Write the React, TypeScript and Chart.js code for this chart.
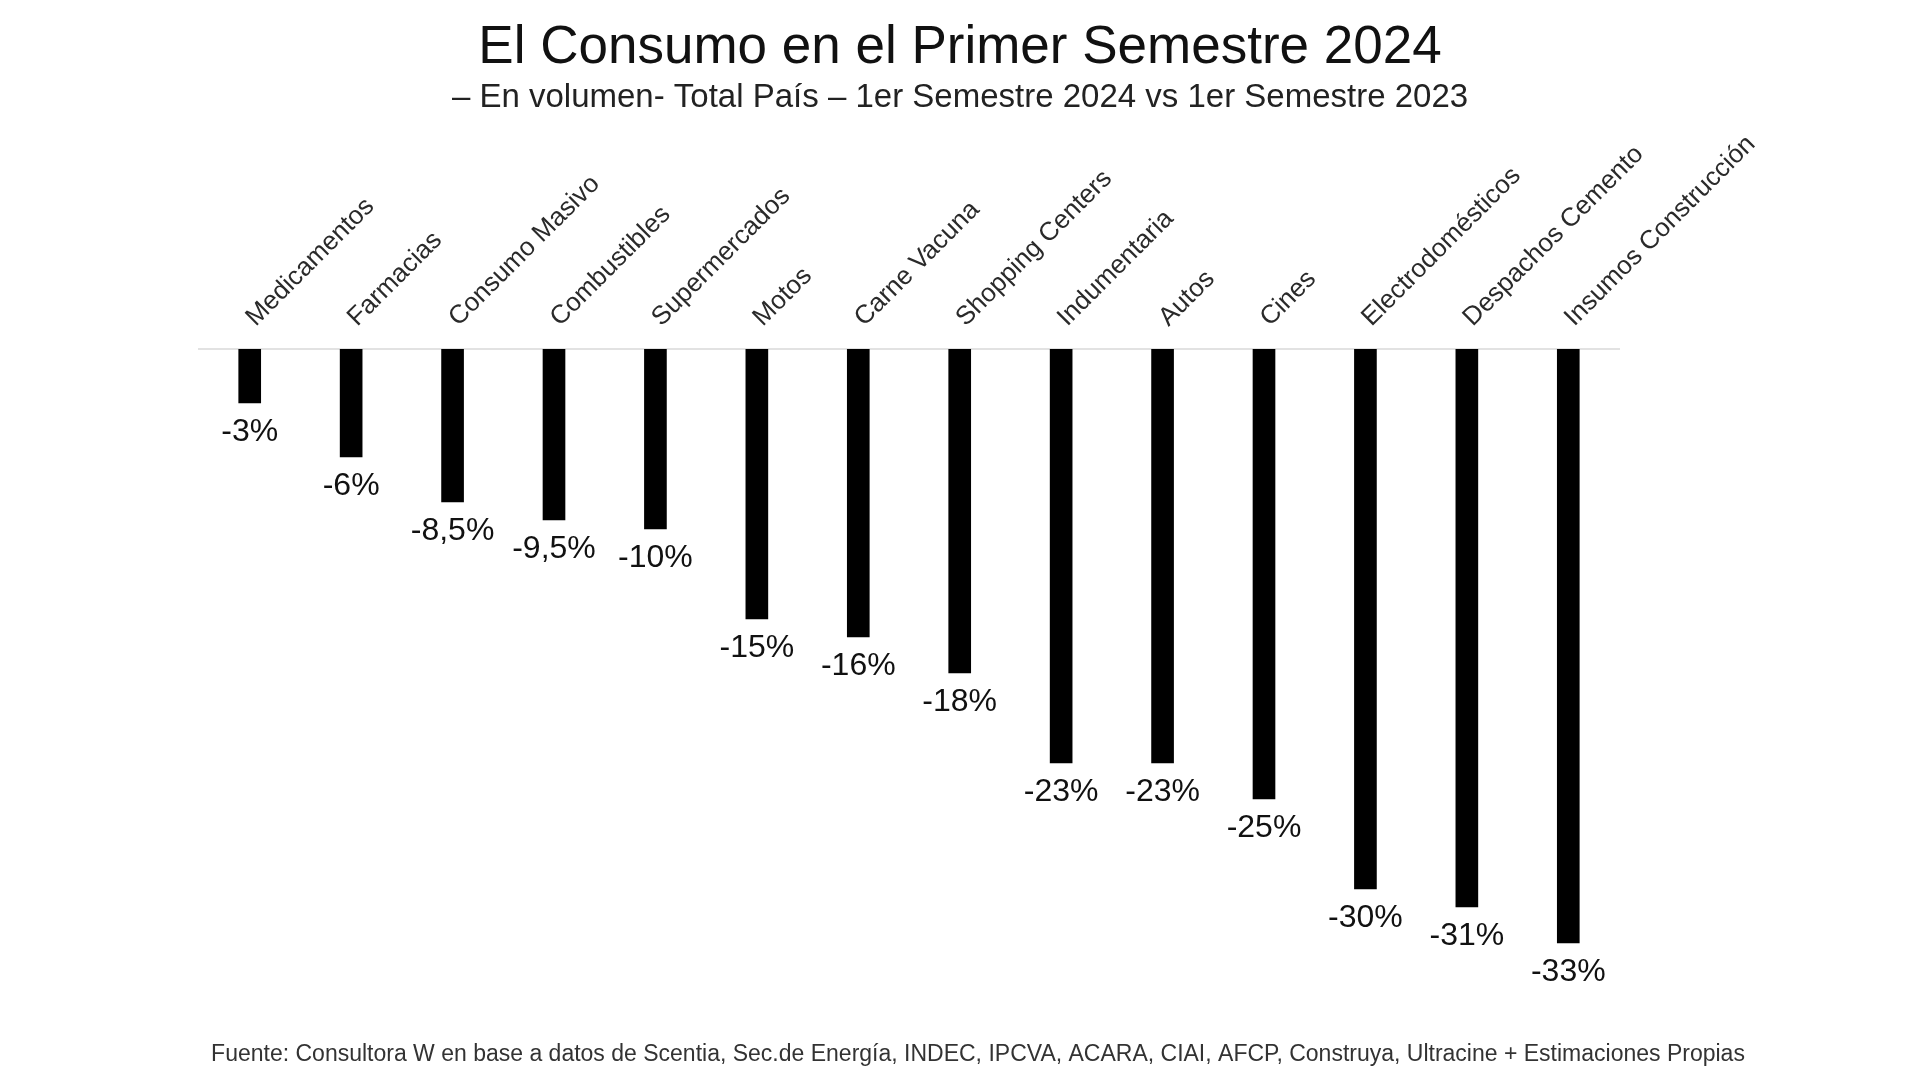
import React, { useEffect, useRef } from "react";
import { Chart, registerables } from "chart.js";

Chart.register(...registerables);

const TITLE = "El Consumo en el Primer Semestre 2024";
const SUBTITLE = "– En volumen- Total País – 1er Semestre 2024 vs 1er Semestre 2023";
const SOURCE =
  "Fuente: Consultora W en base a datos de Scentia, Sec.de Energía, INDEC, IPCVA, ACARA, CIAI, AFCP, Construya, Ultracine + Estimaciones Propias";

const categories = [
  "Medicamentos",
  "Farmacias",
  "Consumo Masivo",
  "Combustibles",
  "Supermercados",
  "Motos",
  "Carne Vacuna",
  "Shopping Centers",
  "Indumentaria",
  "Autos",
  "Cines",
  "Electrodomésticos",
  "Despachos Cemento",
  "Insumos Construcción",
];

const values = [-3, -6, -8.5, -9.5, -10, -15, -16, -18, -23, -23, -25, -30, -31, -33];

const valueLabels = values.map((v) => String(v).replace(".", ",") + "%");

const FONT = '"Liberation Sans", Arial, sans-serif';

const textPlugin = {
  id: "textPlugin",
  afterDatasetsDraw(chart: any) {
    const ctx = chart.ctx;
    const meta = chart.getDatasetMeta(0);
    ctx.save();
    ctx.fillStyle = "#111";
    ctx.textAlign = "center";
    ctx.textBaseline = "middle";
    ctx.font = `32px ${FONT}`;
    meta.data.forEach((el: any, i: number) => {
      ctx.fillText(valueLabels[i], el.x, el.y + 29);
    });
    ctx.restore();
  },
  afterDraw(chart: any) {
    const ctx = chart.ctx;
    ctx.save();
    ctx.fillStyle = "#111";
    ctx.textAlign = "center";
    ctx.textBaseline = "alphabetic";
    ctx.font = `53px ${FONT}`;
    ctx.fillText(TITLE, 960, 63);
    ctx.font = `33px ${FONT}`;
    ctx.fillStyle = "#222";
    ctx.fillText(SUBTITLE, 960, 107);
    ctx.font = `23px ${FONT}`;
    ctx.fillStyle = "#333";
    ctx.fillText(SOURCE, 978, 1061);
    ctx.restore();
  },
};

export default function App() {
  const ref = useRef<HTMLCanvasElement>(null);
  useEffect(() => {
    if (!ref.current) return;
    const chart = new Chart(ref.current, {
      type: "bar",
      data: {
        labels: categories,
        datasets: [
          {
            data: values,
            backgroundColor: "#000",
            borderWidth: 0,
            barThickness: 22,
          },
        ],
      },
      options: {
        animation: false,
        responsive: false,
        devicePixelRatio: 1,
        layout: { padding: { top: 0, left: 199, right: 301, bottom: 101 } },
        plugins: {
          legend: { display: false },
          tooltip: { enabled: false },
          title: { display: false },
        },
        scales: {
          x: {
            position: "top",
            grid: { display: false, drawTicks: false },
            border: { display: true, color: "#e2e2e2", width: 2 },
            ticks: {
              autoSkip: false,
              minRotation: 45,
              maxRotation: 45,
              padding: 16,
              labelOffset: 23,
              color: "#2a2a2a",
              font: { family: FONT, size: 26 },
            },
            afterFit: (s: any) => {
              s.height = 349;
            },
          },
          y: {
            display: false,
            min: -35,
            max: 0,
          },
        },
      },
      plugins: [textPlugin],
    });
    return () => chart.destroy();
  }, []);
  return (
    <div style={{ position: "fixed", left: 0, top: 0, width: 1920, height: 1080, background: "#fff" }}>
      <canvas ref={ref} width={1920} height={1080} style={{ width: 1920, height: 1080, display: "block" }} />
    </div>
  );
}
